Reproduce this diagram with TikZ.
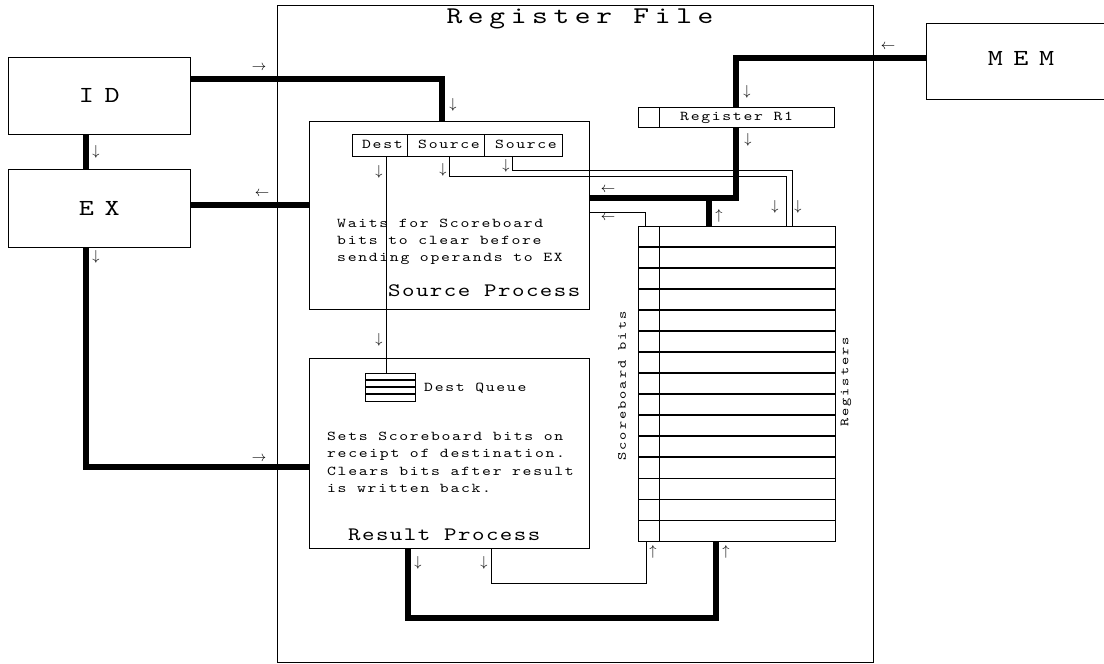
\documentclass[tikz,border=0pt]{standalone}
\usepackage{fontspec}
\newfontfamily\mono[FakeStretch=1.25]{lmmono10-regular.otf}
\newcommand\mtxt[3]{{\fontsize{#1}{#1}\mono\addfontfeatures{LetterSpace=#2}#3}}
\begin{document}
\begin{tikzpicture}[x=1pt,y=-1pt,
  box/.style={draw,line width=0.8pt,inner sep=0pt,rectangle},
  bus/.style={line width=6pt},
  wire/.style={line width=0.8pt},
  rowline/.style={line width=1.8pt},
  arr/.style={inner sep=0pt,font=\fontsize{14.5}{14.5}\selectfont},
  lbl/.style={inner sep=0pt,anchor=base west}]
\useasboundingbox (0,0) rectangle (1104,664);
% main boxes
\node[box,minimum width=595.5,minimum height=657] (RF) at (575.25,333.5) {};
\node[inner sep=0pt] (RFt) at (580,19) {\mtxt{24}{23.5}{Register File}};
\node[box,minimum width=182.5,minimum height=77] (ID) at (99.25,95.5) {\mtxt{23}{46}{ID}};
\node[box,minimum width=182.5,minimum height=78] (EX) at (99.25,208) {\mtxt{23}{46}{EX}};
\node[box,minimum width=182,minimum height=76] (MEM) at (1017,61) {};
\node[inner sep=0pt] (MEMt) at (1021,58) {\mtxt{23}{46}{MEM}};
\node[box,minimum width=279.5,minimum height=188] (SP) at (449.25,215) {};
\node[box,minimum width=279.5,minimum height=189.5] (RP) at (449.25,453.25) {};
% fields
\node[box,minimum width=55,minimum height=22] (D) at (379.5,145) {};
\node[box,minimum width=77,minimum height=22] (S1) at (445.5,145) {};
\node[box,minimum width=78,minimum height=22] (S2) at (523,145) {};
\node[lbl] (Dt) at (362,148.5) {\mtxt{13.5}{12.6}{Dest}};
\node[lbl] (S1t) at (418,148.5) {\mtxt{13.5}{12.6}{Source}};
\node[lbl] (S2t) at (495,148.5) {\mtxt{13.5}{12.6}{Source}};
% register R1
\node[box,minimum width=21,minimum height=20] (R1a) at (648.5,117) {};
\node[box,minimum width=175,minimum height=20,anchor=west] (R1) at (R1a.east) {};
\node[lbl] (R1t) at (680,120.5) {\mtxt{13.5}{12.6}{Register R1}};
% register array
\node[box,minimum width=197,minimum height=315.5] (REG) at (736.5,383.75) {};
\draw[wire] (659,226) -- (659,541.5);
\foreach \i in {1,...,14}{\draw[rowline] (638,{226+\i*21.033}) -- (835,{226+\i*21.033});}
\node[inner sep=0pt,rotate=90] (SBt) at (622,386) {\mtxt{12.5}{16}{Scoreboard bits}};
\node[inner sep=0pt,rotate=90] (REGt) at (846,382) {\mtxt{12.5}{16}{Registers}};
% dest queue
\node[box,minimum width=50,minimum height=28] (DQ) at (390,387) {};
\foreach \y in {380,386.7,394}{\draw[rowline] (365,\y) -- (415,\y);}
\node[lbl] (DQt) at (424,391.5) {\mtxt{13.5}{12.6}{Dest Queue}};
% texts
\node[lbl] (w1) at (337,227.5) {\mtxt{13.5}{12.6}{Waits for Scoreboard}};
\node[lbl] (w2) at (337,244.5) {\mtxt{13.5}{12.6}{bits to clear before}};
\node[lbl] (w3) at (337,261.5) {\mtxt{13.5}{12.6}{sending operands to EX}};
\node[lbl] (SPt) at (388,296.5) {\mtxt{19}{7.7}{Source Process}};
\node[lbl] (r1) at (327,440.5) {\mtxt{13.5}{12.6}{Sets Scoreboard bits on}};
\node[lbl] (r2) at (327,457.8) {\mtxt{13.5}{12.6}{receipt of destination.}};
\node[lbl] (r3) at (327,475.1) {\mtxt{13.5}{12.6}{Clears bits after result}};
\node[lbl] (r4) at (327,492.5) {\mtxt{13.5}{12.6}{is written back.}};
\node[lbl] (RPt) at (348,540.5) {\mtxt{19}{7.7}{Result Process}};
% coordinates
\coordinate (c1) at (442,79);
\coordinate (c2) at (85.5,467);
\coordinate (c3) at (0,205);
\coordinate (c4) at (736,58);
\coordinate (c5) at (0,197.5);
\coordinate (c6) at (708.5,197.5);
\coordinate (c7) at (645.5,212);
\coordinate (c8) at (449,176.5);
\coordinate (c9) at (786,176.5);
\coordinate (c10) at (512.5,170);
\coordinate (c11) at (792.5,170);
\coordinate (c12) at (386.7,0);
\coordinate (c13) at (408,618);
\coordinate (c14) at (716,618);
\coordinate (c15) at (491.5,583);
\coordinate (c16) at (646,583);
% buses
\draw[bus] (ID.east |- c1) -- (c1) -- (c1 |- SP.north);
\draw[bus] (ID.south -| c2) -- (EX.north -| c2);
\draw[bus] (EX.east |- c3) -- (SP.west |- c3);
\draw[bus] (EX.south -| c2) -- (c2) -- (c2 -| RP.west);
\draw[bus] (MEM.west |- c4) -- (c4) -- (c4 |- R1.north);
\draw[bus] (c4 |- R1.south) -- (c4 |- c5) -- (SP.east |- c5);
\draw[bus] (c6) -- (c6 |- REG.north);
\draw[bus] (RP.south -| c13) -- (c13) -- (c14) -- (c14 |- REG.south);
% wires
\draw[wire] (SP.east |- c7) -- (c7) -- (c7 |- REG.north);
\draw[wire] (S1.south -| c8) -- (c8) -- (c9) -- (c9 |- REG.north);
\draw[wire] (S2.south -| c10) -- (c10) -- (c11) -- (c11 |- REG.north);
\draw[wire] (D.south -| c12) -- (c12 |- DQ.north);
\draw[wire] (RP.south -| c15) -- (c15) -- (c16) -- (c16 |- REG.south);
% arrow labels
\node[arr] (a1) at (259,68) {$\rightarrow$};
\node[arr] (a2) at (453,105) {$\downarrow$};
\node[arr] (a3) at (96,152) {$\downarrow$};
\node[arr] (a4) at (262,194) {$\leftarrow$};
\node[arr] (a5) at (96,257) {$\downarrow$};
\node[arr] (a6) at (259,459) {$\rightarrow$};
\node[arr] (a7) at (888,47) {$\leftarrow$};
\node[arr] (a8) at (747,92) {$\downarrow$};
\node[arr] (a9) at (748,140) {$\downarrow$};
\node[arr] (a10) at (608,190) {$\leftarrow$};
\node[arr] (a11) at (608,218) {$\leftarrow$};
\node[arr] (a12) at (719,216) {$\uparrow$};
\node[arr] (a13) at (775,207) {$\downarrow$};
\node[arr] (a14) at (798,207) {$\downarrow$};
\node[arr] (a15) at (379,172) {$\downarrow$};
\node[arr] (a16) at (443,170) {$\downarrow$};
\node[arr] (a17) at (506,166) {$\downarrow$};
\node[arr] (a18) at (379,340) {$\downarrow$};
\node[arr] (a19) at (418,563) {$\downarrow$};
\node[arr] (a20) at (484,563) {$\downarrow$};
\node[arr] (a21) at (653,552) {$\uparrow$};
\node[arr] (a22) at (726,552) {$\uparrow$};
\end{tikzpicture}
\end{document}
